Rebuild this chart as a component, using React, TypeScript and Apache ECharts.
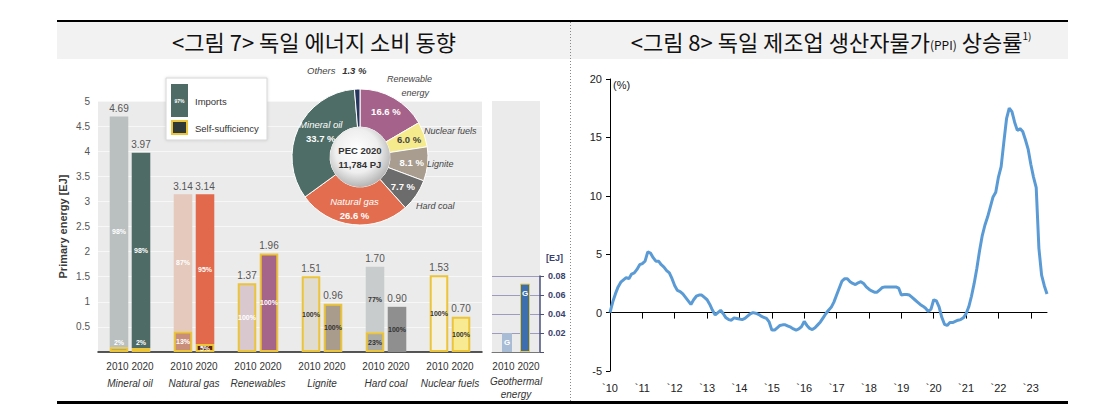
import React, { useEffect, useRef } from "react";
import * as echarts from "echarts";

// ---------------- data ----------------
const energyCategories = ["Mineral oil", "Natural gas", "Renewables", "Lignite", "Hard coal", "Nuclear fuels"];
const barYears = ["2010", "2020"];
const total2010 = [4.69, 3.14, 1.37, 1.51, 1.7, 1.53];
const total2020 = [3.97, 3.14, 1.96, 0.96, 0.9, 0.7];
const selfShare2010 = [2, 13, 100, 100, 23, 100];
const selfShare2020 = [2, 5, 100, 100, 0, 100];

const geoCategory = ["Geothermal energy"];
const geoValue2010 = [0.02];
const geoValue2020 = [0.072];

const pecNames = ["Renewable energy", "Nuclear fuels", "Lignite", "Hard coal", "Natural gas", "Mineral oil", "Others"];
const pecShares = [16.6, 6.0, 8.1, 7.7, 26.6, 33.7, 1.3];
const pecCentreTitle = "PEC 2020";
const pecCentreTotal = "11,784 PJ";

const ppiYearLabels = ["`10", "`11", "`12", "`13", "`14", "`15", "`16", "`17", "`18", "`19", "`20", "`21", "`22", "`23"];
const ppi2010 = [0.0, 0.9, 1.6, 2.2, 2.6, 2.8, 3.0, 2.9, 3.3, 3.4, 3.7, 4.1];
const ppi2011 = [4.2, 4.4, 5.2, 5.1, 4.7, 4.4, 4.4, 4.1, 3.9, 3.6, 3.4, 2.9];
const ppi2012 = [2.3, 1.9, 1.8, 1.6, 1.3, 1.0, 0.7, 1.1, 1.4, 1.5, 1.5, 1.3];
const ppi2013 = [1.1, 0.7, 0.2, -0.2, 0.0, 0.2, -0.1, -0.45, -0.6, -0.65, -0.45, -0.5];
const ppi2014 = [-0.55, -0.6, -0.5, -0.3, -0.1, 0.0, -0.05, -0.15, -0.3, -0.4, -0.5, -0.8];
const ppi2015 = [-1.5, -1.5, -1.3, -1.1, -1.05, -1.05, -1.15, -1.25, -1.4, -1.5, -1.4, -1.2];
const ppi2016 = [-0.75, -1.1, -1.35, -1.45, -1.3, -1.05, -0.8, -0.45, -0.1, 0.2, 0.45, 0.9];
const ppi2017 = [1.5, 2.1, 2.7, 2.9, 2.9, 2.65, 2.5, 2.4, 2.55, 2.65, 2.5, 2.2];
const ppi2018 = [2.0, 1.85, 1.75, 1.75, 1.95, 2.15, 2.2, 2.2, 2.2, 2.2, 2.2, 2.1];
const ppi2019 = [1.5, 1.55, 1.55, 1.5, 1.3, 1.1, 0.9, 0.7, 0.55, 0.37, 0.1, 0.3];
const ppi2020 = [1.1, 1.0, 0.5, -0.4, -1.0, -1.1, -0.85, -0.85, -0.75, -0.65, -0.6, -0.45];
const ppi2021 = [-0.1, 0.5, 1.4, 2.5, 3.8, 5.3, 6.6, 7.5, 8.2, 9.05, 9.9, 10.3];
const ppi2022 = [11.6, 12.5, 14.6, 16.6, 17.5, 17.2, 16.3, 15.6, 15.75, 15.5, 14.8, 14.0];
const ppi2023 = [12.7, 11.6, 10.7, 5.5, 3.2, 2.3, 1.6];

const ppiValues = [
  ...ppi2010, ...ppi2011, ...ppi2012, ...ppi2013, ...ppi2014, ...ppi2015, ...ppi2016,
  ...ppi2017, ...ppi2018, ...ppi2019, ...ppi2020, ...ppi2021, ...ppi2022, ...ppi2023,
];
const ppiMonths = ppiValues.map((_, i) => `${2010 + Math.floor(i / 12)}-${String((i % 12) + 1).padStart(2, "0")}`);

// ---------------- styles ----------------
const FONT = '"Liberation Sans", Arial, sans-serif';
const KFONT = '"Noto Sans CJK KR", sans-serif';
const YELLOW = "#ecc43a";
const importColor2010 = ["#b9c0bf", "#e4c9bc", "#d9c9cf", "#e1dcd1", "#c9cccd", "#f4f0e2"];
const selfColor2010 = ["#98a39e", "#c98e7a", "#d9c9cf", "#e1dcd1", "#aaaaa6", "#f4f0e2"];
const importColor2020 = ["#4f6b66", "#e2694c", "#a5658b", "#a99c8c", "#8f8f8f", "#f7ea93"];
const selfColor2020 = ["#4f6b66", "#5c2415", "#a5658b", "#a99c8c", "#8f8f8f", "#f7ea93"];
const pctColor2010 = ["#fff", "#fff", "#fff", "#333", "#333", "#333"];
const pctColor2020 = ["#fff", "#fff", "#fff", "#333", "#333", "#333"];
const pecColors = ["#a5628a", "#f5ea8c", "#a99d8f", "#6c6c6c", "#e36e4f", "#4e6d66", "#27365f"];
const pecLabelColors = ["#fff", "#444", "#fff", "#fff", "#fff", "#fff", "#fff"];

function makeBarRenderer(side: number, importColors: string[], selfColors: string[], pctColors: string[]) {
  return (_params: any, api: any) => {
    const ci = api.value(0);
    const total = api.value(1);
    const share = api.value(2);
    const base = api.coord([ci, 0]);
    const topY = api.coord([ci, total])[1];
    const selfY = api.coord([ci, (total * share) / 100])[1];
    const band = api.size([1, 0])[0];
    const w = band * 0.29;
    const cx = base[0] + side * band * 0.172;
    const x = cx - w / 2;
    const pctFont = { fontFamily: FONT, fontWeight: "bold", fontSize: 7 };
    const children: any[] = [];
    if (share < 100) {
      children.push({
        type: "rect",
        shape: { x, y: topY, width: w, height: selfY - topY },
        style: { fill: importColors[ci] },
      });
      children.push({
        type: "text",
        x: cx,
        y: (topY + selfY) / 2,
        style: { text: `${100 - share}%`, align: "center", verticalAlign: "middle", fill: pctColors[ci], ...pctFont },
      });
    }
    if (share > 0) {
      const h = base[1] - selfY;
      children.push({
        type: "rect",
        shape: { x: x + 1, y: selfY + 1, width: w - 2, height: Math.max(h - 2, 0) },
        style: { fill: selfColors[ci], stroke: YELLOW, lineWidth: 2 },
      });
      const ly = h >= 7 ? selfY + h / 2 : base[1] - 10;
      children.push({
        type: "text",
        x: cx,
        y: ly,
        style: { text: `${share}%`, align: "center", verticalAlign: "middle", fill: pctColors[ci], ...pctFont },
      });
    }
    children.push({
      type: "text",
      x: cx,
      y: topY - 3,
      style: {
        text: total.toFixed(2),
        align: "center",
        verticalAlign: "bottom",
        fill: "#555",
        fontSize: 10,
        fontFamily: FONT,
      },
    });
    return { type: "group", children };
  };
}

function buildOption(): any {
  const yearLine = barYears.join(" ");
  return {
    animation: false,
    textStyle: { fontFamily: FONT },
    grid: [
      { left: 98, top: 101, width: 384, height: 251, show: true, backgroundColor: "#ebebeb", borderWidth: 0 },
      { left: 492, top: 276, width: 48, height: 76, show: false },
      { left: 610, top: 79, width: 437, height: 292, show: false },
    ],
    xAxis: [
      {
        gridIndex: 0,
        type: "category",
        data: energyCategories,
        axisLine: { lineStyle: { color: "#222", width: 1.5 } },
        axisTick: { alignWithLabel: true, length: 8, lineStyle: { color: "#666" } },
        splitLine: { show: false },
        axisLabel: {
          interval: 0,
          margin: 6,
          formatter: (v: string) => `{y|${yearLine}}\n{n|${v}}`,
          rich: {
            y: { fontSize: 10, color: "#333", lineHeight: 17, fontFamily: FONT },
            n: { fontSize: 10, color: "#333", lineHeight: 17, fontStyle: "italic", fontFamily: FONT },
          },
        },
      },
      {
        gridIndex: 1,
        type: "category",
        data: geoCategory,
        axisLine: { lineStyle: { color: "#777", width: 1 } },
        axisTick: { alignWithLabel: true, length: 8, lineStyle: { color: "#666" } },
        splitLine: { show: false },
        axisLabel: {
          interval: 0,
          margin: 6,
          formatter: (v: string) => {
            const parts = v.split(" ");
            return `{y|${yearLine}}\n{g|${parts[0]}}\n{g|${parts[1]}}`;
          },
          rich: {
            y: { fontSize: 10, color: "#333", lineHeight: 17, fontFamily: FONT },
            g: { fontSize: 10, color: "#333", lineHeight: 13, fontStyle: "italic", fontFamily: FONT },
          },
        },
      },
      {
        gridIndex: 2,
        type: "category",
        data: ppiMonths,
        boundaryGap: false,
        axisLine: { onZero: true, lineStyle: { color: "#000", width: 1 } },
        axisTick: { interval: (i: number) => i % 12 === 0, length: 6, lineStyle: { color: "#000" } },
        axisLabel: { show: false },
        splitLine: { show: false },
      },
      {
        gridIndex: 2,
        type: "category",
        data: ppiMonths,
        boundaryGap: false,
        position: "bottom",
        axisLine: { show: false, onZero: false },
        axisTick: { show: false },
        splitLine: { show: false },
        axisLabel: {
          interval: (i: number) => i % 12 === 0,
          formatter: (_v: string, i: number) => ppiYearLabels[Math.floor(i / 12)],
          margin: 11,
          fontSize: 11,
          color: "#222",
        },
      },
    ],
    yAxis: [
      {
        gridIndex: 0,
        type: "value",
        min: 0,
        max: 5,
        interval: 0.5,
        axisLine: { show: false },
        axisTick: { show: false },
        splitLine: { show: true, lineStyle: { color: "#f7f7f7", width: 1 } },
        axisLabel: { formatter: (v: number) => (v === 0 ? "" : String(v)), color: "#555", fontSize: 10, margin: 8 },
        name: "Primary energy [EJ]",
        nameLocation: "middle",
        nameRotate: 90,
        nameGap: 30,
        nameTextStyle: { fontWeight: "bold", fontSize: 11, color: "#3a3a3a" },
      },
      {
        gridIndex: 1,
        type: "value",
        position: "right",
        min: 0,
        max: 0.08,
        interval: 0.02,
        axisLine: { show: true, lineStyle: { color: "#4a4f7e", width: 1.5 } },
        axisTick: { show: true, length: 4, lineStyle: { color: "#4a4f7e" } },
        splitLine: { show: true, lineStyle: { color: "#9d9cbf", width: 1 } },
        axisLabel: {
          formatter: (v: number) => (v === 0 ? "" : v.toFixed(2)),
          color: "#3a3f6e",
          fontSize: 9,
          fontWeight: "bold",
          margin: 8,
        },
        name: "[EJ]",
        nameLocation: "end",
        nameGap: 14,
        nameTextStyle: { fontWeight: "bold", fontSize: 9, color: "#3a3f6e", align: "left", padding: [0, 0, 0, 6] },
      },
      {
        gridIndex: 2,
        type: "value",
        min: -5,
        max: 20,
        interval: 5,
        axisLine: { show: true, lineStyle: { color: "#000", width: 1 } },
        axisTick: { show: true, length: 4, lineStyle: { color: "#000" } },
        splitLine: { show: false },
        axisLabel: { fontSize: 11, color: "#222", margin: 8 },
        name: "(%)",
        nameLocation: "end",
        nameGap: 0,
        nameTextStyle: { fontSize: 11, color: "#222", align: "left", verticalAlign: "top", padding: [0, 0, 0, 3] },
      },
    ],
    series: [
      {
        type: "custom",
        name: barYears[0],
        xAxisIndex: 0,
        yAxisIndex: 0,
        renderItem: makeBarRenderer(-1, importColor2010, selfColor2010, pctColor2010),
        encode: { x: 0, y: 1 },
        data: energyCategories.map((_, i) => [i, total2010[i], selfShare2010[i]]),
        silent: true,
        z: 2,
      },
      {
        type: "custom",
        name: barYears[1],
        xAxisIndex: 0,
        yAxisIndex: 0,
        renderItem: makeBarRenderer(1, importColor2020, selfColor2020, pctColor2020),
        encode: { x: 0, y: 1 },
        data: energyCategories.map((_, i) => [i, total2020[i], selfShare2020[i]]),
        silent: true,
        z: 2,
      },
      {
        type: "bar",
        name: "Geothermal " + barYears[0],
        xAxisIndex: 1,
        yAxisIndex: 1,
        data: geoValue2010,
        barWidth: 10,
        barGap: "80%",
        itemStyle: { color: "#a9bcd6" },
        label: { show: true, position: "inside", formatter: "G", color: "#fff", fontSize: 8, fontWeight: "bold" },
        silent: true,
      },
      {
        type: "bar",
        name: "Geothermal " + barYears[1],
        xAxisIndex: 1,
        yAxisIndex: 1,
        data: geoValue2020,
        barWidth: 10,
        barGap: "80%",
        itemStyle: { color: "#3d6fae", borderColor: "#e6c84a", borderWidth: 1 },
        label: { show: true, position: "insideTop", distance: 6, formatter: "G", color: "#fff", fontSize: 8, fontWeight: "bold" },
        silent: true,
      },
      {
        type: "pie",
        center: [360, 157],
        radius: [30, 68],
        startAngle: 90,
        clockwise: true,
        avoidLabelOverlap: false,
        silent: true,
        z: 5,
        itemStyle: { borderColor: "#fff", borderWidth: 1 },
        labelLine: { show: false },
        labelLayout: (p: any) => (p.dataIndex === 5 ? { dx: 8, dy: -4 } : {}),
        label: {
          show: true,
          position: "inside",
          formatter: (p: any) => {
            if (p.dataIndex === 6) return "";
            const pct = `{p|${Number(p.value).toFixed(1)} %}`;
            return p.dataIndex === 4 || p.dataIndex === 5 ? `{n|${p.name}}\n${pct}` : pct;
          },
          rich: {
            p: { fontSize: 9.5, fontWeight: "bold", fontFamily: FONT, lineHeight: 14 },
            n: { fontSize: 9.5, fontStyle: "italic", fontFamily: FONT, lineHeight: 14 },
          },
        },
        data: pecNames.map((n, i) => ({
          name: n,
          value: pecShares[i],
          itemStyle: { color: pecColors[i] },
          label: { color: pecLabelColors[i] },
        })),
      },
      {
        type: "line",
        name: "PPI",
        xAxisIndex: 2,
        yAxisIndex: 2,
        data: ppiValues,
        showSymbol: false,
        symbol: "none",
        lineStyle: { color: "#5b9bd5", width: 3 },
        silent: true,
        z: 3,
      },
    ],
    graphic: [
      // header band and rules
      { type: "rect", z: 0, shape: { x: 57, y: 22, width: 1011, height: 37 }, style: { fill: "#f2f2f2" } },
      { type: "rect", z: 1, shape: { x: 57, y: 20, width: 1011, height: 2 }, style: { fill: "#000" } },
      { type: "rect", z: 1, shape: { x: 57, y: 401, width: 1011, height: 3 }, style: { fill: "#000" } },
      {
        type: "line",
        z: 1,
        shape: { x1: 570.5, y1: 22, x2: 570.5, y2: 401 },
        style: { stroke: "#888", lineWidth: 1, lineDash: [1, 2] },
      },
      {
        type: "text",
        z: 2,
        x: 314,
        y: 41,
        style: {
          text: "<그림 7> 독일 에너지 소비 동향",
          fontFamily: KFONT,
          fontSize: 22,
          fill: "#111",
          align: "center",
          verticalAlign: "middle",
        },
      },
      {
        type: "text",
        z: 2,
        x: 831,
        y: 41,
        style: {
          text: "{t|<그림 8> 독일 제조업 생산자물가}{s|(PPI)}{t| 상승률}{u|1)}",
          align: "center",
          verticalAlign: "middle",
          rich: {
            t: { fontFamily: KFONT, fontSize: 22, fill: "#111", verticalAlign: "bottom" },
            s: { fontFamily: KFONT, fontSize: 12, fill: "#111", verticalAlign: "bottom", padding: [0, 0, 2, 0] },
            u: { fontFamily: KFONT, fontSize: 10, fill: "#111", verticalAlign: "top", padding: [0, 0, 10, 0] },
          },
        },
      },
      // geothermal panel background
      { type: "rect", z: -1, shape: { x: 492, y: 101, width: 48, height: 251 }, style: { fill: "#ebebeb" } },
      // legend box
      {
        type: "rect",
        z: 50,
        shape: { x: 166, y: 78, width: 101, height: 62 },
        style: { fill: "#fff", stroke: "#d6d6d6", lineWidth: 1, shadowBlur: 3, shadowColor: "rgba(0,0,0,0.15)" },
      },
      { type: "rect", z: 51, shape: { x: 171, y: 84, width: 17, height: 33 }, style: { fill: "#4f6b66" } },
      {
        type: "text",
        z: 52,
        x: 179.5,
        y: 101,
        style: { text: "97%", fontSize: 5, fontWeight: "bold", fill: "#fff", align: "center", verticalAlign: "middle", fontFamily: FONT },
      },
      {
        type: "rect",
        z: 51,
        shape: { x: 172, y: 121, width: 15, height: 13 },
        style: { fill: "#2f3a38", stroke: YELLOW, lineWidth: 2 },
      },
      {
        type: "text",
        z: 52,
        x: 195,
        y: 101,
        style: { text: "Imports", fontSize: 9.5, fill: "#333", align: "left", verticalAlign: "middle", fontFamily: FONT },
      },
      {
        type: "text",
        z: 52,
        x: 195,
        y: 128,
        style: { text: "Self-sufficiency", fontSize: 9.5, fill: "#333", align: "left", verticalAlign: "middle", fontFamily: FONT },
      },
      // donut centre
      {
        type: "circle",
        z: 60,
        shape: { cx: 360, cy: 157, r: 30 },
        style: {
          fill: new echarts.graphic.RadialGradient(0.45, 0.4, 0.6, [
            { offset: 0, color: "#ffffff" },
            { offset: 0.6, color: "#eeeeee" },
            { offset: 1, color: "#b5b5b5" },
          ]),
        },
      },
      {
        type: "text",
        z: 61,
        x: 360,
        y: 150,
        style: { text: pecCentreTitle, fontSize: 9.5, fontWeight: "bold", fill: "#333", align: "center", verticalAlign: "middle", fontFamily: FONT },
      },
      {
        type: "text",
        z: 61,
        x: 360,
        y: 164,
        style: { text: pecCentreTotal, fontSize: 9.5, fontWeight: "bold", fill: "#333", align: "center", verticalAlign: "middle", fontFamily: FONT },
      },
      // donut outer labels
      {
        type: "text",
        z: 61,
        x: 307,
        y: 70,
        style: {
          text: `{a|${pecNames[6]}}  {b|${pecShares[6].toFixed(1)} %}`,
          align: "left",
          verticalAlign: "middle",
          rich: {
            a: { fontSize: 9.5, fontStyle: "italic", fill: "#444", fontFamily: FONT },
            b: { fontSize: 9.5, fontWeight: "bold", fontStyle: "italic", fill: "#333", fontFamily: FONT },
          },
        },
      },
      {
        type: "text",
        z: 61,
        x: 387,
        y: 79,
        style: { text: "Renewable", fontSize: 9, fontStyle: "italic", fill: "#444", align: "left", verticalAlign: "middle", fontFamily: FONT },
      },
      {
        type: "text",
        z: 61,
        x: 429,
        y: 93,
        style: { text: "energy", fontSize: 9, fontStyle: "italic", fill: "#444", align: "right", verticalAlign: "middle", fontFamily: FONT },
      },
      {
        type: "text",
        z: 61,
        x: 424,
        y: 131,
        style: { text: pecNames[1], fontSize: 9, fontStyle: "italic", fill: "#444", align: "left", verticalAlign: "middle", fontFamily: FONT },
      },
      {
        type: "text",
        z: 61,
        x: 427,
        y: 164,
        style: { text: pecNames[2], fontSize: 9, fontStyle: "italic", fill: "#444", align: "left", verticalAlign: "middle", fontFamily: FONT },
      },
      {
        type: "text",
        z: 61,
        x: 416,
        y: 206,
        style: { text: pecNames[3], fontSize: 9, fontStyle: "italic", fill: "#444", align: "left", verticalAlign: "middle", fontFamily: FONT },
      },
    ],
  };
}

export default function App() {
  const ref = useRef<HTMLDivElement>(null);
  useEffect(() => {
    if (!ref.current) return;
    const chart = echarts.init(ref.current, undefined, { renderer: "svg" });
    chart.setOption(buildOption());
    return () => chart.dispose();
  }, []);
  return (
    <div
      ref={ref}
      style={{ position: "absolute", left: 0, top: 0, width: 1118, height: 405, background: "#fff" }}
    />
  );
}
